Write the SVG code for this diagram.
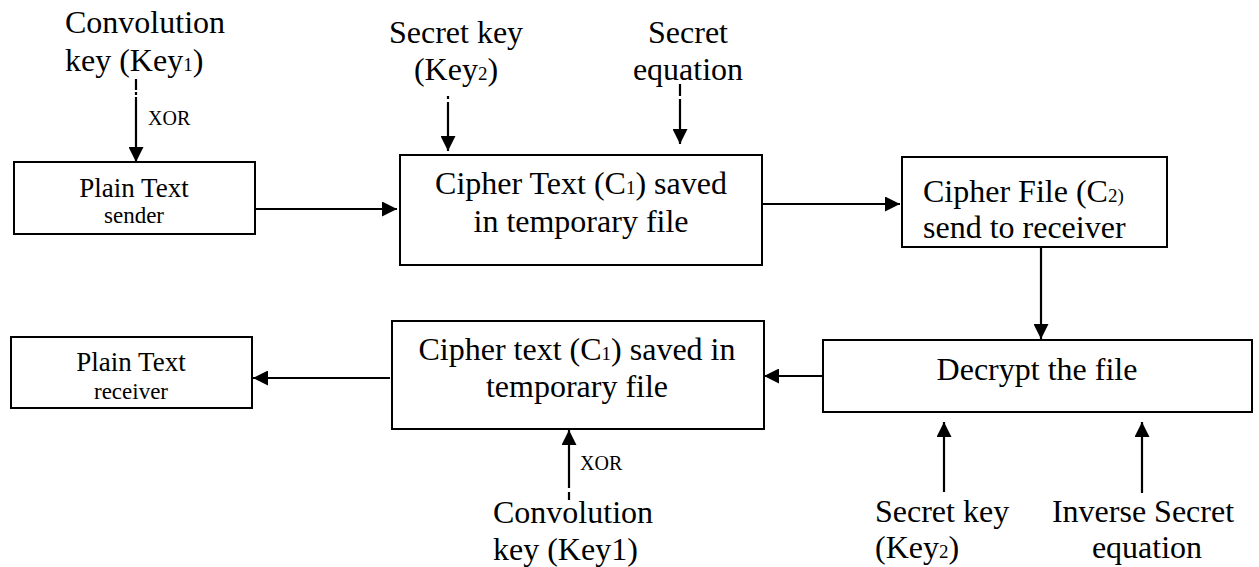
<svg xmlns="http://www.w3.org/2000/svg" width="1259" height="567" viewBox="0 0 1259 567">
  <defs>
    <marker id="arrow" markerUnits="userSpaceOnUse" markerWidth="16" markerHeight="15" refX="15" refY="7.5" orient="auto">
      <path d="M0,0 L15,7.5 L0,15 z" fill="#000"/>
    </marker>
    <style>
      .big { font-size: 32px; }
      .mid { font-size: 27px; }
      .small { font-size: 23px; }
      .op { font-size: 20px; }
      .sub { font-size: 19px; }
      .box { fill: #fff; stroke: #000; stroke-width: 2; }
      .wire { fill: none; stroke: #000; stroke-width: 2.2; }
      .c { text-anchor: middle; }
    </style>
  </defs>
  <rect width="1259" height="567" fill="#fff"/>

  <!-- connectors -->
  <g id="connectors">
    <!-- key1 into sender plain text -->
    <line class="wire" x1="136" y1="79" x2="136" y2="162" stroke-dasharray="11 2 3 2 200" marker-end="url(#arrow)"/>
    <!-- plain text to cipher text -->
    <line class="wire" x1="255" y1="209" x2="397" y2="209" marker-end="url(#arrow)"/>
    <!-- key2 into cipher text -->
    <line class="wire" x1="448" y1="96" x2="448" y2="151" stroke-dasharray="3 3 200" marker-end="url(#arrow)"/>
    <!-- secret equation into cipher text -->
    <line class="wire" x1="680" y1="84" x2="680" y2="144" stroke-dasharray="12 3 200" marker-end="url(#arrow)"/>
    <!-- cipher text to cipher file -->
    <line class="wire" x1="762" y1="204" x2="900" y2="204" marker-end="url(#arrow)"/>
    <!-- cipher file down to decrypt -->
    <line class="wire" x1="1041" y1="247" x2="1041" y2="339" marker-end="url(#arrow)"/>
    <!-- decrypt to cipher text (receiver side) -->
    <line class="wire" x1="823" y1="376" x2="764" y2="376" marker-end="url(#arrow)"/>
    <!-- cipher text to receiver plain text -->
    <line class="wire" x1="390" y1="378" x2="253" y2="378" marker-end="url(#arrow)"/>
    <!-- key1 XOR into cipher text (receiver side) -->
    <line class="wire" x1="569" y1="500" x2="569" y2="430" stroke-dasharray="8 4 200" marker-end="url(#arrow)"/>
    <!-- key2 and inverse equation into decrypt -->
    <line class="wire" x1="944" y1="492" x2="944" y2="422" marker-end="url(#arrow)"/>
    <line class="wire" x1="1142" y1="493" x2="1142" y2="422" marker-end="url(#arrow)"/>
  </g>

  <g font-family="'Liberation Serif', 'DejaVu Serif', serif" fill="#000">
    <!-- free-standing labels -->
    <g id="key1-top">
      <text class="big" x="65" y="33">Convolution</text>
      <text class="big" x="65" y="71">key (Key<tspan class="sub">1</tspan>)</text>
      <text class="op" x="148" y="125">XOR</text>
    </g>
    <g id="key2-top">
      <text class="big c" x="456" y="43">Secret key</text>
      <text class="big c" x="456" y="80">(Key<tspan class="sub">2</tspan>)</text>
    </g>
    <g id="equation-top">
      <text class="big c" x="688" y="43">Secret</text>
      <text class="big c" x="688" y="80">equation</text>
    </g>
    <g id="key1-bottom">
      <text class="op" x="580" y="470">XOR</text>
      <text class="big" x="493" y="523">Convolution</text>
      <text class="big" x="493" y="560">key (Key1)</text>
    </g>
    <g id="key2-bottom">
      <text class="big" x="875" y="522">Secret key</text>
      <text class="big" x="875" y="558">(Key<tspan class="sub">2</tspan>)</text>
    </g>
    <g id="equation-bottom">
      <text class="big c" x="1143" y="522">Inverse Secret</text>
      <text class="big c" x="1147" y="558">equation</text>
    </g>

    <!-- process boxes -->
    <g id="plain-sender">
      <rect class="box" x="14" y="162" width="241" height="72"/>
      <text class="mid c" x="134" y="197">Plain Text</text>
      <text class="small c" x="134" y="223">sender</text>
    </g>
    <g id="cipher-text">
      <rect class="box" x="400" y="155" width="362" height="110"/>
      <text class="big c" x="581" y="194">Cipher Text (C<tspan class="sub">1</tspan>) saved</text>
      <text class="big c" x="581" y="232">in temporary file</text>
    </g>
    <g id="cipher-file">
      <rect class="box" x="902" y="157" width="265" height="90"/>
      <text class="big" x="923" y="202">Cipher File (C<tspan class="sub">2)</tspan></text>
      <text class="big" x="923" y="238">send to receiver</text>
    </g>
    <g id="decrypt">
      <rect class="box" x="823" y="340" width="429" height="72"/>
      <text class="big c" x="1037" y="380">Decrypt the file</text>
    </g>
    <g id="cipher-text-receiver">
      <rect class="box" x="392" y="321" width="372" height="108"/>
      <text class="big c" x="577" y="360">Cipher text (C<tspan class="sub">1</tspan>) saved in</text>
      <text class="big c" x="577" y="397">temporary file</text>
    </g>
    <g id="plain-receiver">
      <rect class="box" x="11" y="337" width="241" height="71"/>
      <text class="mid c" x="131" y="371">Plain Text</text>
      <text class="small c" x="131" y="399">receiver</text>
    </g>
  </g>
</svg>
